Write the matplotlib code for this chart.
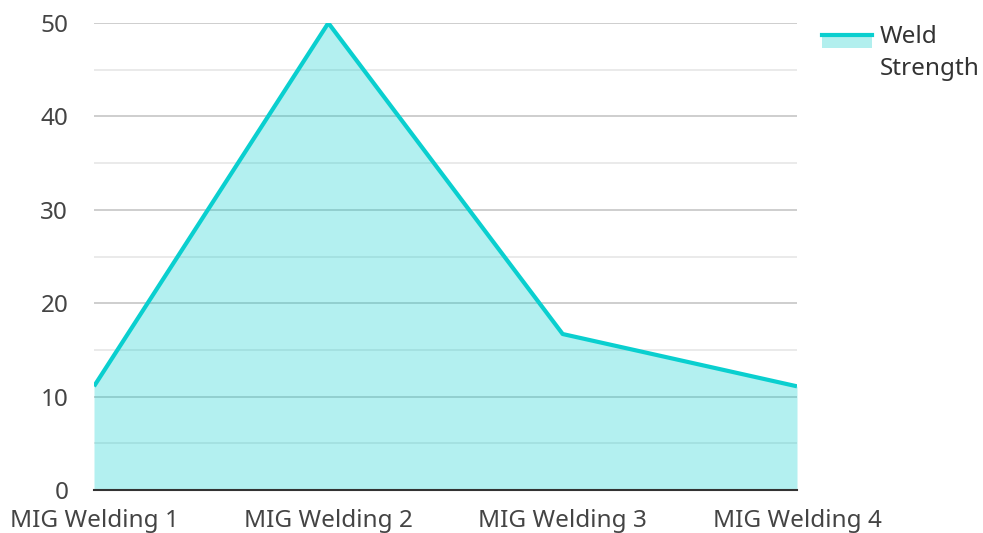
import matplotlib
matplotlib.use("Agg")
import matplotlib.pyplot as plt
from matplotlib.patches import Rectangle
from matplotlib.lines import Line2D

plt.rcParams['font.family'] = ['Noto Sans', 'DejaVu Sans']

# data
categories = ["MIG Welding 1", "MIG Welding 2", "MIG Welding 3", "MIG Welding 4"]
weld_strength = [11.1, 50, 16.7, 11.1]
series_name = "Weld\nStrength"

line_col = "#0acfcf"
fill_col = "#b2efee"
W, H = 983, 533

fig = plt.figure(figsize=(W / 100, H / 100), dpi=100)
ax = fig.add_axes([94 / W, 1 - 490 / H, (797 - 94) / W, (490 - 23) / H])

x = list(range(len(categories)))
ax.fill_between(x, 0, weld_strength, color=line_col, alpha=0.31, linewidth=0, zorder=2)
ax.plot(x, weld_strength, color=line_col, linewidth=3, zorder=3, solid_capstyle='butt')

ax.set_xlim(0, len(categories) - 1)
ax.set_ylim(0, 50)
ax.set_yticks([0, 10, 20, 30, 40, 50])
ax.set_yticks([5, 15, 25, 35, 45], minor=True)
ax.set_xticks(x)
ax.set_xticklabels(categories)

ax.grid(axis='y', which='major', color='#c6c6c6', linewidth=1.2, zorder=1)
ax.grid(axis='y', which='minor', color='#e6e6e6', linewidth=1.2, zorder=1)
ax.set_axisbelow(True)

for s in ['top', 'right', 'left']:
    ax.spines[s].set_visible(False)
ax.spines['bottom'].set_color('#333333')
ax.spines['bottom'].set_linewidth(1.5)
ax.spines['bottom'].set_zorder(4)

ax.tick_params(axis='both', which='both', length=0, labelsize=17.5, labelcolor='#444444')
ax.tick_params(axis='y', pad=18.5)
ax.tick_params(axis='x', pad=13.5)

# legend, drawn by hand so the key sits on the first line of text
fig.add_artist(Rectangle((822 / W, 1 - 48 / H), 50 / W, 12 / H, transform=fig.transFigure,
                         facecolor=fill_col, edgecolor='none'))
fig.add_artist(Line2D([822 / W, 872 / W], [1 - 35 / H, 1 - 35 / H], transform=fig.transFigure,
                      color=line_col, linewidth=3))
fig.text(880 / W, 1 - 25 / H, series_name, fontsize=17.5, color='#333333',
         ha='left', va='top', linespacing=1.45)

fig.savefig("out.png", dpi=100)
